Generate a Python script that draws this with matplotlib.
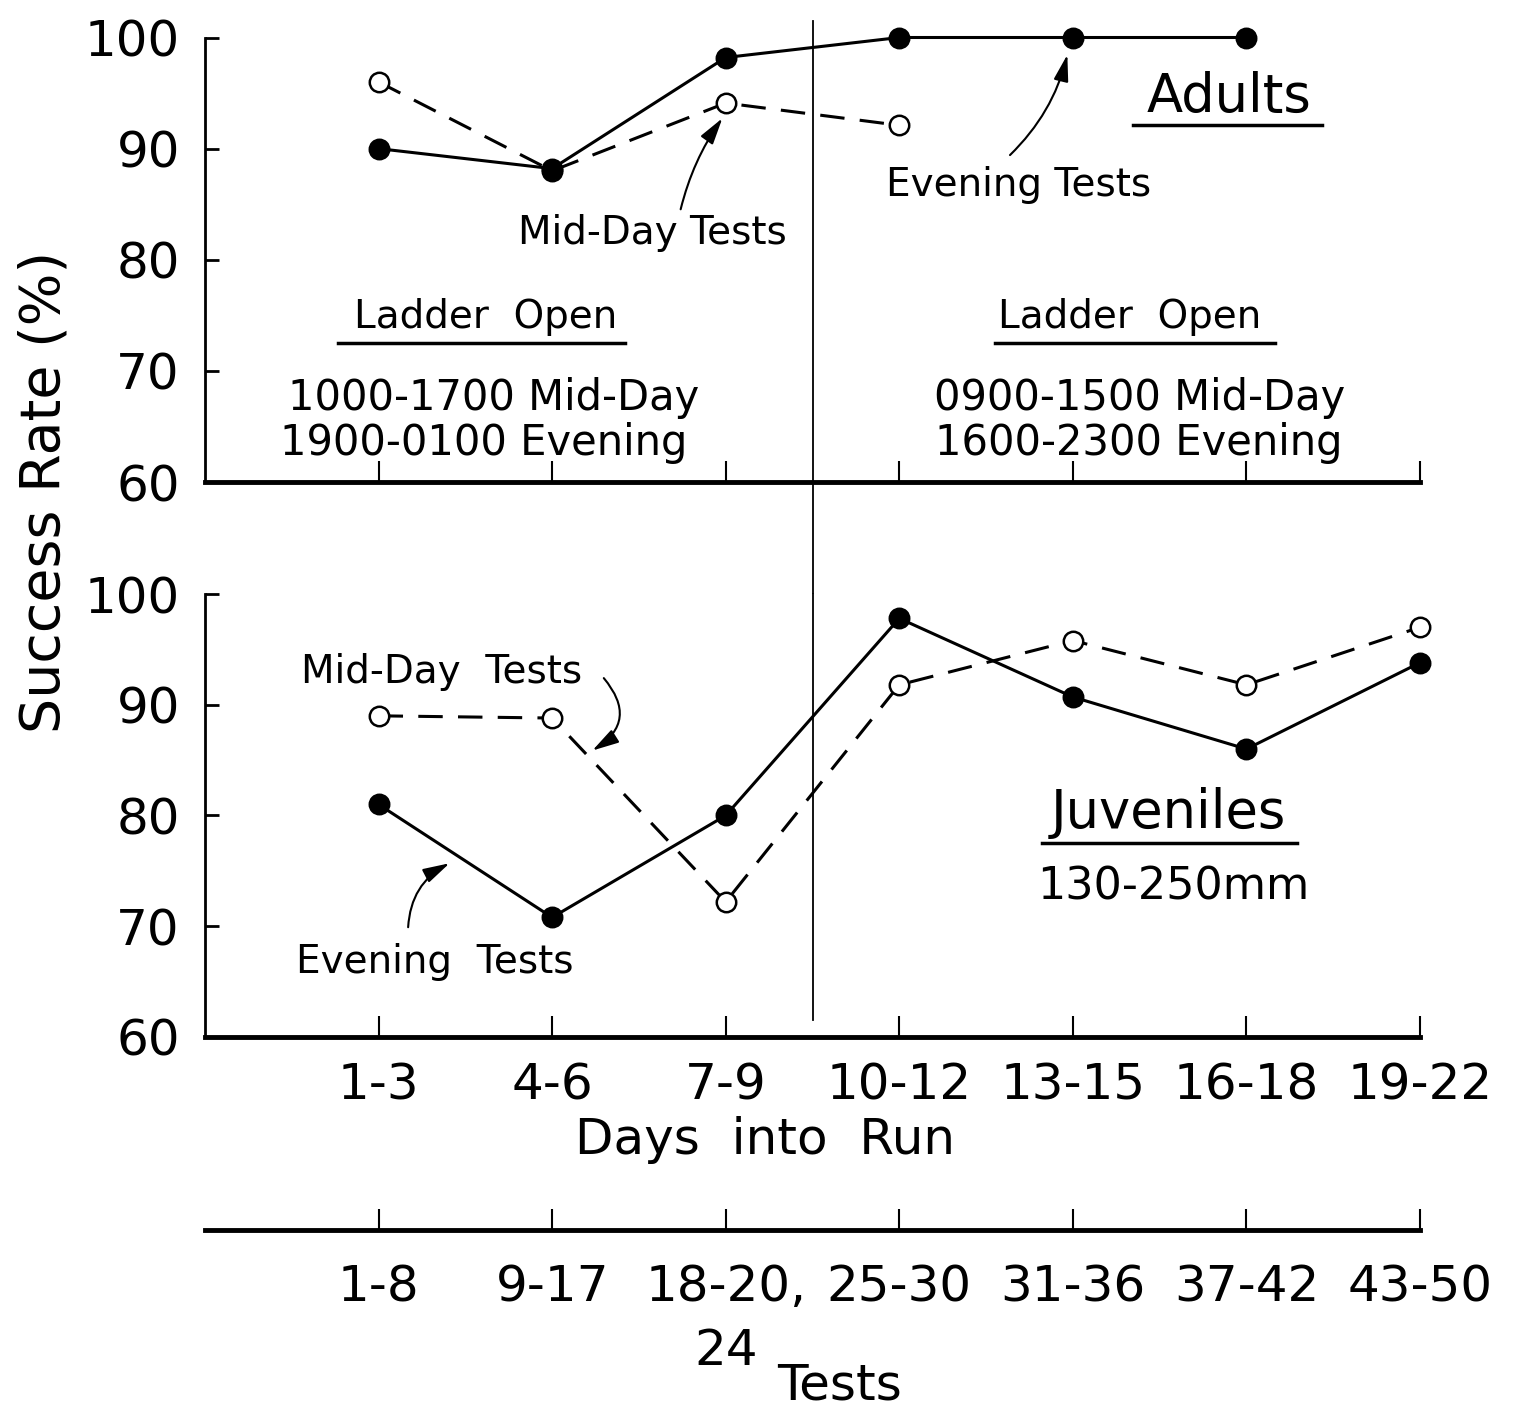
import matplotlib.pyplot as plt
from matplotlib.lines import Line2D

days = ["1-3", "4-6", "7-9", "10-12", "13-15", "16-18", "19-22"]
tests = ["1-8", "9-17", "18-20,\n24", "25-30", "31-36", "37-42", "43-50"]

adult_evening = [90, 88.2, 98.2, 100, 100, 100]
adult_midday = [96, 88, 94.1, 92.1]
juv_evening = [81, 70.8, 80, 97.8, 90.7, 86, 93.8]
juv_midday = [89, 88.8, 72.2, 91.8, 95.8, 91.8, 97]

yticks = [60, 70, 80, 90, 100]

FIG_W, FIG_H = 1518, 1413


def fx(px):
    return px / FIG_W


def fy(py):
    return 1 - py / FIG_H


def style_axis(ax, labels=None):
    ax.set_xlim(0, len(days))
    ax.set_ylim(60, 100)
    for side in ["top", "right"]:
        ax.spines[side].set_visible(False)
    ax.spines["left"].set_linewidth(2)
    ax.spines["bottom"].set_linewidth(3.5)
    ax.set_yticks(yticks)
    ax.set_yticklabels([str(v) for v in yticks], fontsize=36)
    ax.tick_params(axis="y", direction="in", length=10, width=2, pad=18)
    ax.set_xticks(range(1, len(days) + 1))
    if labels is None:
        ax.set_xticklabels([])
    else:
        ax.set_xticklabels(labels, fontsize=36)
    ax.tick_params(axis="x", direction="in", length=15, width=1.5, pad=18)
    ax.patch.set_visible(False)


def draw_series(ax, values, filled, dashed):
    x = list(range(1, len(values) + 1))
    line, = ax.plot(x, values, color="black", lw=2.2,
                    marker="o", ms=14, mew=1.8, mec="black",
                    mfc="black" if filled else "white",
                    clip_on=False, zorder=3)
    if dashed:
        line.set_dashes((8, 5))


def label(fig, px, py, text, size, va="center"):
    fig.text(fx(px), fy(py), text, fontsize=size, ha="center", va=va)


def underline(fig, x0, x1, py):
    fig.add_artist(Line2D([fx(x0), fx(x1)], [fy(py), fy(py)],
                          transform=fig.transFigure, color="black", lw=2.5))


def arrow(fig, start, tip, rad):
    fig.add_artist(plt.matplotlib.patches.FancyArrowPatch(
        (fx(start[0]), fy(start[1])), (fx(tip[0]), fy(tip[1])),
        transform=fig.transFigure,
        arrowstyle="-|>,head_length=0.9,head_width=0.25",
        connectionstyle=f"arc3,rad={rad}",
        mutation_scale=18, lw=1.5, color="black"))


def main():
    plt.rcParams["font.family"] = ["DejaVu Sans"]
    fig = plt.figure(figsize=(FIG_W / 100, FIG_H / 100), dpi=100)
    width = fx(1420) - fx(205)

    ax1 = fig.add_axes([fx(205), fy(482), width, fy(37.5) - fy(482)])
    ax2 = fig.add_axes([fx(205), fy(1037), width, fy(594) - fy(1037)])
    style_axis(ax1)
    style_axis(ax2, days)

    draw_series(ax1, adult_midday, filled=False, dashed=True)
    draw_series(ax1, adult_evening, filled=True, dashed=False)
    draw_series(ax2, juv_midday, filled=False, dashed=True)
    draw_series(ax2, juv_evening, filled=True, dashed=False)

    # divider between 7-9 and 10-12
    div = (days.index("7-9") + days.index("10-12")) / 2 + 1
    ax1.plot([div, div], [101.5, 50], color="black", lw=1.3, clip_on=False)
    ax2.plot([div, div], [100, 61.5], color="black", lw=1.3, clip_on=False)

    # tests axis
    ax3 = fig.add_axes([fx(205), fy(1230), width, 0.0001])
    ax3.set_xlim(0, len(tests))
    for side in ["top", "right", "left"]:
        ax3.spines[side].set_visible(False)
    ax3.spines["bottom"].set_linewidth(3.5)
    ax3.set_yticks([])
    ax3.set_xticks(range(1, len(tests) + 1))
    ax3.set_xticklabels(tests, fontsize=36, linespacing=1.4, va="top")
    ax3.tick_params(axis="x", direction="in", length=15, width=1.5, pad=24)
    ax3.patch.set_visible(False)

    fig.text(fx(45), fy(492), "Success Rate (%)", rotation=90,
             fontsize=40, ha="center", va="center")
    label(fig, 765, 1140, "Days  into  Run", 36)
    label(fig, 840, 1410, "Tests", 36, va="bottom")

    # adults panel
    label(fig, 652, 233, "Mid-Day Tests", 28)
    arrow(fig, (680, 212), (724, 116), -0.1)
    label(fig, 1019, 185, "Evening Tests", 28)
    arrow(fig, (1008, 157), (1068, 52), 0.15)
    label(fig, 1229, 97, "Adults", 38)
    underline(fig, 1133, 1322, 125)
    label(fig, 486, 317, "Ladder  Open", 28)
    underline(fig, 338, 625, 343)
    label(fig, 494, 398, "1000-1700 Mid-Day", 30)
    label(fig, 484, 443, "1900-0100 Evening", 30)
    label(fig, 1130, 317, "Ladder  Open", 28)
    underline(fig, 995, 1275, 343)
    label(fig, 1140, 398, "0900-1500 Mid-Day", 30)
    label(fig, 1139, 443, "1600-2300 Evening", 30)

    # juveniles panel
    label(fig, 442, 672, "Mid-Day  Tests", 28)
    arrow(fig, (602, 676), (590, 752), -0.6)
    label(fig, 435, 962, "Evening  Tests", 28)
    arrow(fig, (408, 930), (452, 862), -0.3)
    label(fig, 1168, 813, "Juveniles", 38)
    underline(fig, 1042, 1297, 843)
    label(fig, 1173, 887, "130-250mm", 32)

    fig.savefig("out.png", dpi=100)


if __name__ == "__main__":
    main()
